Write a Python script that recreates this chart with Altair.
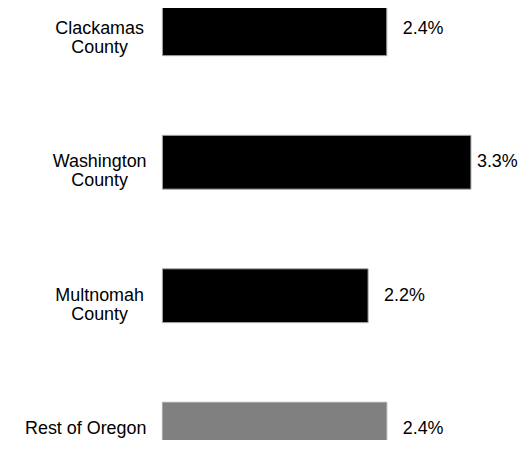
import altair as alt
import pandas as pd

categories = ["Clackamas\nCounty", "Washington\nCounty", "Multnomah\nCounty", "Rest of Oregon"]
values = [2.4, 3.3, 2.2, 2.4]
groups = ["county", "county", "county", "rest"]

df = pd.DataFrame({"category": categories, "value": values, "group": groups})

FONT = "Liberation Sans"

y_enc = alt.Y("category:N", sort=categories,
              scale=alt.Scale(paddingInner=0.597, paddingOuter=0), axis=None)
x_enc = alt.X("value:Q", scale=alt.Scale(domain=[0, 3.75], nice=False, zero=True), axis=None)

base = alt.Chart(df)

bars = base.mark_bar(stroke="#a6a6a6", strokeWidth=1).encode(
    x=x_enc,
    y=y_enc,
    color=alt.Color("group:N",
                    scale=alt.Scale(domain=["county", "rest"], range=["#000000", "#808080"]),
                    legend=None),
)

pct_base = base.transform_calculate(lbl="format(datum.value, '.1f') + '%'")

pct = pct_base.transform_filter("datum.value < 3").mark_text(
    align="left", baseline="middle", dx=16, font=FONT, fontSize=18, color="#000000"
).encode(x=x_enc, y=y_enc, text="lbl:N")

pct_big = pct_base.transform_filter("datum.value >= 3").mark_text(
    align="left", baseline="middle", dx=6, font=FONT, fontSize=18, color="#000000"
).encode(x=x_enc, y=y_enc, text="lbl:N")

multi = base.transform_filter("indexof(datum.category, '\\n') >= 0").mark_text(
    align="center", baseline="middle", lineBreak="\n", lineHeight=19,
    font=FONT, fontSize=18, color="#000000"
).encode(x=alt.value(-63), y=y_enc, text="category:N")

single = base.transform_filter("indexof(datum.category, '\\n') < 0").mark_text(
    align="right", baseline="middle", font=FONT, fontSize=18, color="#000000"
).encode(x=alt.value(-16), y=y_enc, text="category:N")

chart = alt.layer(bars, pct, pct_big, multi, single).properties(
    width=352, height=456,
    background="white",
    autosize=alt.AutoSizeParams(type="none"),
    padding={"left": 155, "top": -7, "right": 5, "bottom": -17},
).configure_view(stroke=None)

chart.save("out.html", embed_options={"renderer": "svg", "actions": False})
